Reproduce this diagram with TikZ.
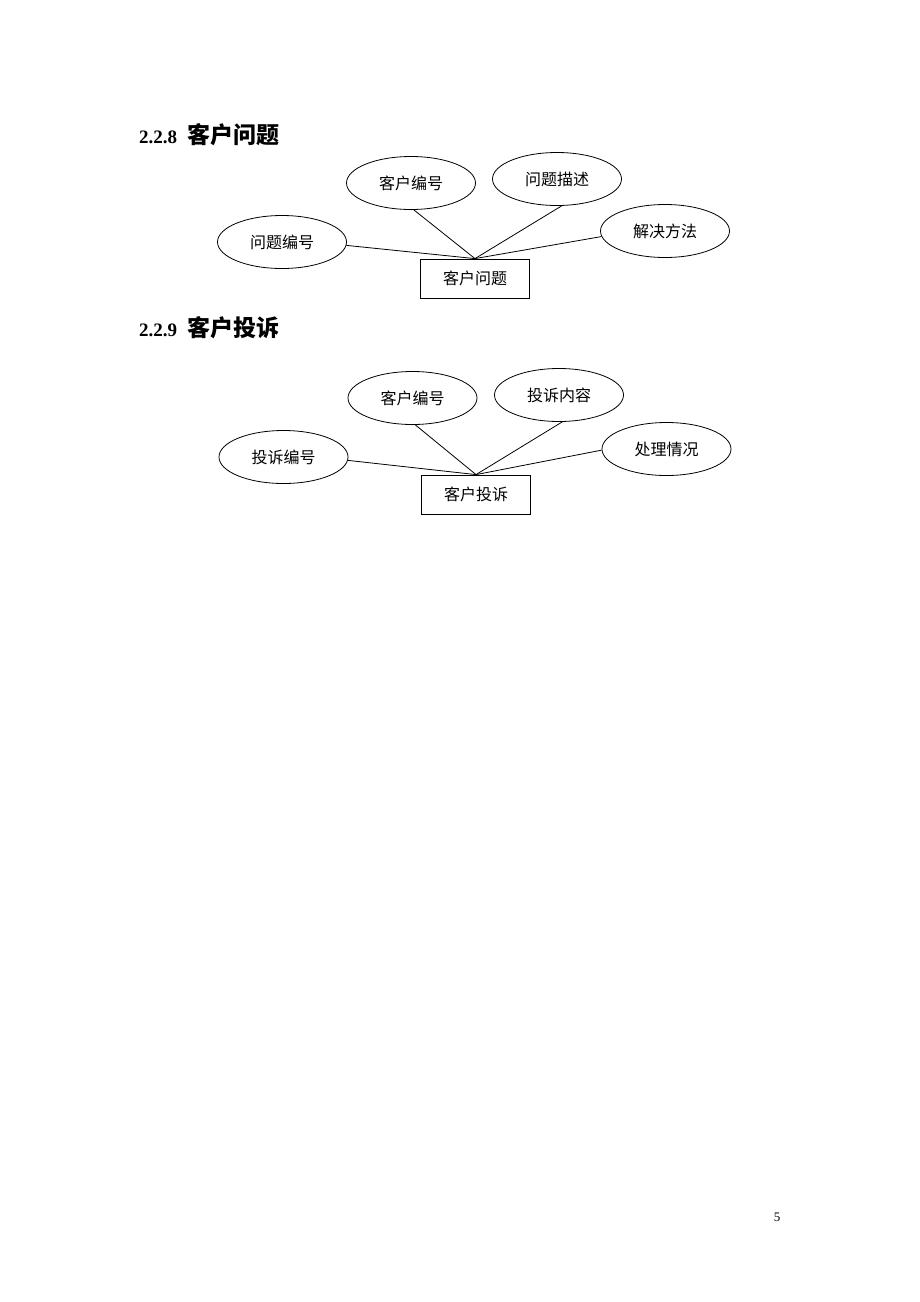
\documentclass[tikz,border=0pt]{standalone}
\usepackage{fontspec}
\setmainfont{Liberation Serif}
\newfontfamily\cjk{Noto Sans CJK SC}
\usetikzlibrary{shapes.geometric}

\begin{document}
\begin{tikzpicture}[x=1pt,y=-1pt,
    attr/.style={draw,ellipse,line width=0.8pt,minimum width=129pt,minimum height=53pt,inner sep=0pt,font=\cjk\fontsize{16}{19}\selectfont},
    entity/.style={draw,line width=0.8pt,minimum width=109pt,minimum height=39pt,inner sep=0pt,font=\cjk\fontsize{16}{19}\selectfont},
    link/.style={line width=0.8pt},
    heading/.style={anchor=west,inner sep=0pt,font=\bfseries\fontsize{19}{22}\selectfont}]
    \useasboundingbox (0,0) rectangle (920,1302);

    % 2.2.8
    \node[heading] (h8) at (139,135) {2.2.8\hspace{10pt}{\cjk\fontsize{23}{26}\selectfont 客户问题}};
    \node[attr] (cid1) at (411,183) {客户编号};
    \node[attr] (desc) at (557,179) {问题描述};
    \node[attr] (qid) at (282,242) {问题编号};
    \node[attr] (sol) at (665,231) {解决方法};
    \node[entity] (q) at (475,278.5) {客户问题};
    \foreach \a/\t in {qid/-3,cid1/-84,desc/-80,sol/185} {
        \draw[link] (\a.\t) -- (q.north);
    }

    % 2.2.9
    \node[heading] (h9) at (139,328) {2.2.9\hspace{10pt}{\cjk\fontsize{23}{26}\selectfont 客户投诉}};
    \node[attr] (cid2) at (412.5,398) {客户编号};
    \node[attr] (cont) at (559,395) {投诉内容};
    \node[attr] (cpid) at (283.5,457) {投诉编号};
    \node[attr] (proc) at (666.5,449) {处理情况};
    \node[entity] (c) at (476,494.5) {客户投诉};
    \foreach \a/\t in {cpid/-3,cid2/-84,cont/-83,proc/181} {
        \draw[link] (\a.\t) -- (c.north);
    }

    \node[font=\fontsize{13}{15}\selectfont] (pg) at (777,1217) {5};
\end{tikzpicture}
\end{document}
